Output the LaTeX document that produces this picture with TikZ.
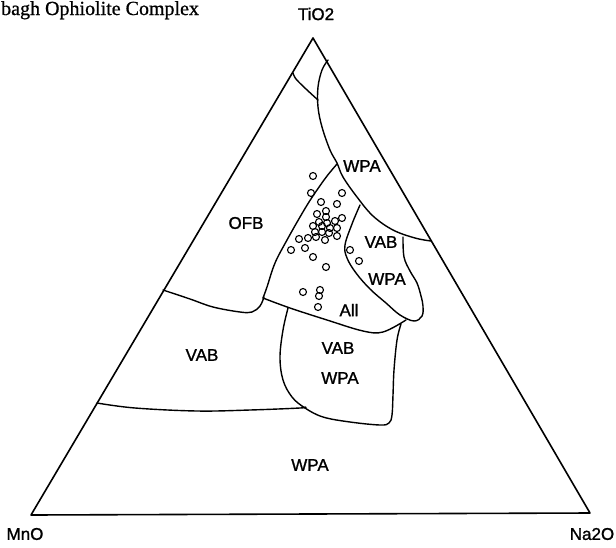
\documentclass[tikz,border=0pt]{standalone}
\usepackage{fontspec}
\setmainfont{Liberation Serif}
\newfontfamily\labfont[FakeBold=1.2]{Liberation Sans}
\newfontfamily\titfont[FakeBold=0.8]{Liberation Serif}
\begin{document}
\begin{tikzpicture}[x=1pt,y=-1pt,
  edge/.style={line width=1.6pt,line join=round,line cap=round},
  bound/.style={line width=1.4pt,line join=round,line cap=round},
  lab/.style={font=\labfont\fontsize{17}{17}\selectfont,inner sep=0pt},
  samp/.style={circle,draw,line width=1.1pt,minimum size=7pt,inner sep=0pt}]
\clip (0,0) rectangle (616,547);
\fill[white] (0,0) rectangle (616,547);
% title
\node[anchor=base west,inner sep=0pt,font=\titfont\fontsize{20}{20}\selectfont] (title) at (1,15) {bagh Ophiolite Complex};
% triangle
\coordinate (top) at (313,38);
\coordinate (lft) at (31,515);
\coordinate (rgt) at (590,513);
\draw[edge] (top) -- (lft) -- (rgt) -- cycle;
% boundaries
\draw[bound] plot[smooth,tension=0.6] coordinates {(293,73) (296,79) (306,89) (318,100)};
\draw[bound] plot[smooth,tension=0.6] coordinates {(328,60) (322,70) (318,87) (318,107) (322,127) (330,150) (337,163) (343,177) (357,197) (373,216) (393,230) (415,238) (431,241)};
\draw[bound] plot[smooth,tension=0.6] coordinates {(337,164) (327,176) (317,190) (309,202) (300,217) (287,240) (275,263) (267,287) (263,298)};
\draw[bound] plot[smooth,tension=0.6] coordinates {(163,290) (190,299) (213,307) (240,312) (252,312) (260,306) (264,297)};
\draw[bound] plot[smooth,tension=0.6] coordinates {(263,298) (290,308) (327,320) (363,331) (383,332) (406,320)};
\draw[bound] plot[smooth,tension=0.6] coordinates {(360,205) (352,224) (345,245) (347,258) (356,273) (370,289) (386,303) (400,315) (414,321) (422,316) (423,306) (421,296) (417,283) (410,271) (404,257) (403,237)};
\draw[bound] plot[smooth,tension=0.6] coordinates {(288,308) (283,330) (280,357) (283,380) (292,397) (305,408) (323,417) (350,422) (380,425) (389,423) (392,415) (393,395) (394,370) (397,340) (401,324)};
\draw[bound] plot[smooth,tension=0.6] coordinates {(97,403) (135,408) (197,411) (250,410) (300,408) (305,407)};
% samples
\foreach \p [count=\i] in {(313,176),(311,193),(342,193),(321,202),(337,204),(326,211),(317,214),(326,217),(342,218),(335,221),(319,222),(327,223),(313,226),(322,226),(330,228),(337,228),(315,232),(322,232),(329,233),(337,236),(308,238),(316,237),(325,240),(299,239),(291,250),(305,248),(313,257),(326,267),(350,250),(359,261),(303,292),(320,290),(319,296),(318,307)}
  \node[samp] (s\i) at \p {};
% labels
\node[lab] (ti) at (316,14) {TiO2};
\node[lab] (mn) at (25,534) {MnO};
\node[lab] (na) at (592,534) {Na2O};
\node[lab] (wpa1) at (362,166) {WPA};
\node[lab] (ofb) at (246,223) {OFB};
\node[lab] (vab1) at (381,242) {VAB};
\node[lab] (wpa2) at (387,279) {WPA};
\node[lab] (all) at (349,310) {All};
\node[lab] (vab2) at (202,355) {VAB};
\node[lab] (vab3) at (338,348) {VAB};
\node[lab] (wpa3) at (340,378) {WPA};
\node[lab] (wpa4) at (310,465) {WPA};
\end{tikzpicture}
\end{document}
